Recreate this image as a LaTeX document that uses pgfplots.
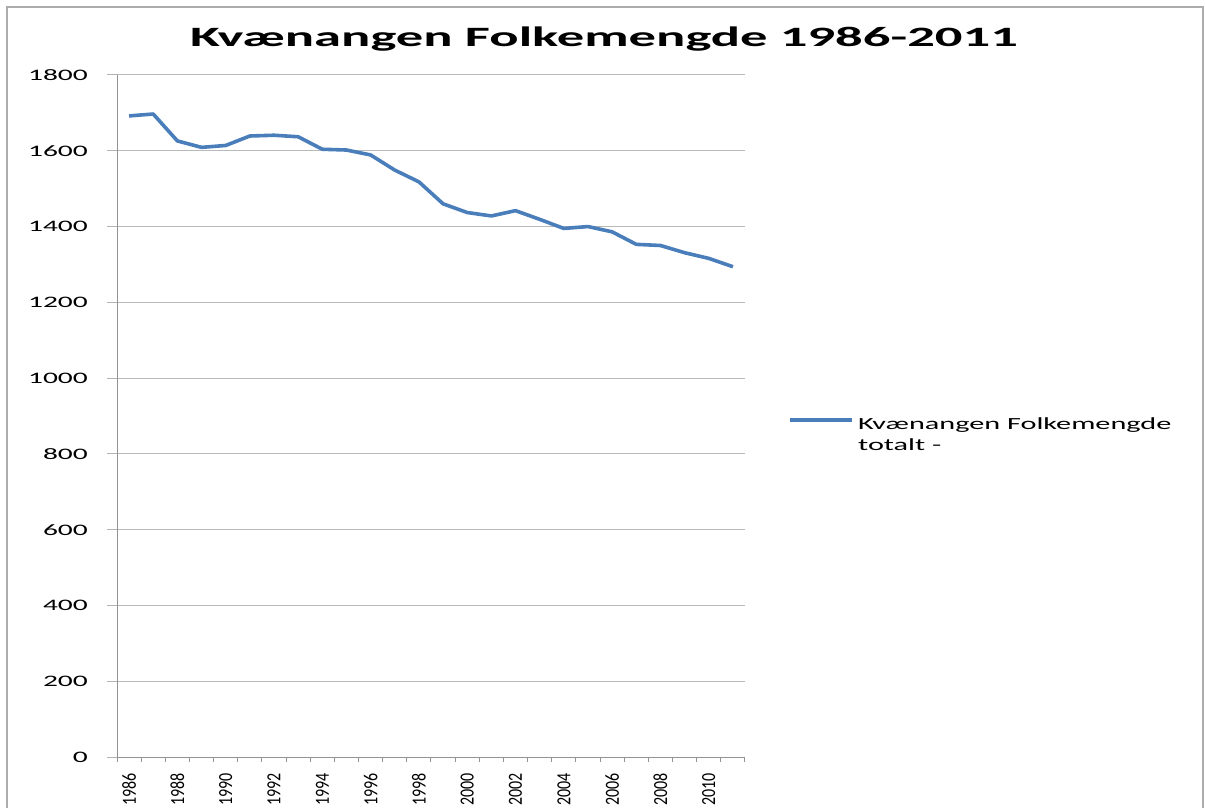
\documentclass[border=0pt]{standalone}
\usepackage{fontspec}
\setmainfont{Carlito}
\usepackage{graphicx}
\usepackage{pgfplots}
\pgfplotsset{compat=1.18}
\definecolor{excelblue}{RGB}{74,126,187}
\newcommand\ysx[1]{\scalebox{1.84}[1]{#1}}
\newcommand\lsx[1]{\scalebox{1.78}[1]{#1}}
\newcommand\xsx[1]{\scalebox{1}[1.25]{#1}}
\begin{document}
\begin{tikzpicture}[x=1pt,y=1pt]
\path[use as bounding box] (0,0) rectangle (1205,807);
\draw[gray!65, line width=2pt] (7,-5) -- (7,800) -- (1203,800) -- (1203,-5);
\node[anchor=base, font=\fontsize{28}{28}\selectfont\bfseries, inner sep=0pt] at (604,760) {\scalebox{1.95}[1]{Kvænangen Folkemengde 1986-2011}};
\begin{axis}[
  at={(117pt,50pt)}, anchor=south west,
  scale only axis, width=628pt, height=682pt,
  xmin=1985.5, xmax=2011.5, ymin=0, ymax=1800,
  axis x line*=bottom, axis y line*=left,
  axis line style={-, gray!85, line width=1pt},
  ytick={0,200,...,1800},
  yticklabels={\ysx{0},\ysx{200},\ysx{400},\ysx{600},\ysx{800},\ysx{1000},\ysx{1200},\ysx{1400},\ysx{1600},\ysx{1800}},
  xtick={1986,1988,...,2010},
  xticklabels={\xsx{1986},\xsx{1988},\xsx{1990},\xsx{1992},\xsx{1994},\xsx{1996},\xsx{1998},\xsx{2000},\xsx{2002},\xsx{2004},\xsx{2006},\xsx{2008},\xsx{2010}},
  minor xtick={1985.5,1986.5,...,2011.5},
  tick align=outside,
  major tick length=10pt, minor tick length=5pt,
  every major x tick/.style={draw=none},
  every minor x tick/.style={gray!85, line width=1pt},
  every major y tick/.style={gray!60, line width=1pt},
  ymajorgrids, grid style={gray!55, line width=1pt},
  yticklabel style={anchor=east, inner sep=0pt, xshift=-19pt, font=\fontsize{16}{16}\selectfont},
  xticklabel style={rotate=90, anchor=east, inner sep=0pt, inner xsep=6pt, font=\fontsize{16}{16}\selectfont},
  legend image code/.code={\draw[#1] (0pt,15pt) -- (62pt,15pt);},
  legend style={draw=none, fill=none, inner sep=0pt, at={(1.069,0.472)}, anchor=west,
    nodes={inner sep=0pt, align=left, font=\fontsize{17}{21}\selectfont}, column sep=4pt},
  legend cell align=left,
]
\addplot[excelblue, line width=3.6pt, line join=round] coordinates {
(1986,1692) (1987,1697) (1988,1626) (1989,1609) (1990,1614) (1991,1639)
(1992,1641) (1993,1637) (1994,1604) (1995,1602) (1996,1589) (1997,1549)
(1998,1518) (1999,1460) (2000,1437) (2001,1428) (2002,1442) (2003,1419)
(2004,1395) (2005,1400) (2006,1386) (2007,1353) (2008,1350) (2009,1331)
(2010,1316) (2011,1294)
};
\addlegendentry{\lsx{Kvænangen Folkemengde}\\\lsx{totalt -}}
\end{axis}
\end{tikzpicture}
\end{document}
